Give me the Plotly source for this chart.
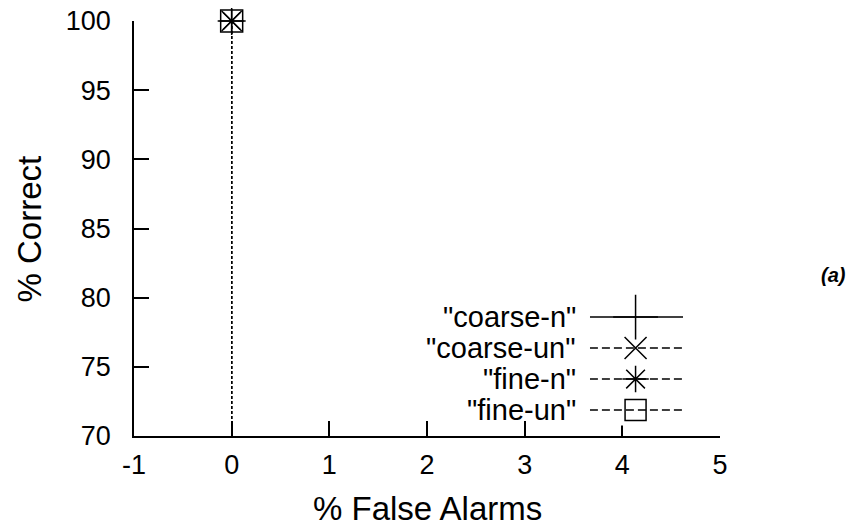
import plotly.graph_objects as go

# ---- data ----
series_names = ['"coarse-n"', '"coarse-un"', '"fine-n"', '"fine-un"']
false_alarms = {
    '"coarse-n"': [0, 0],
    '"coarse-un"': [0, 0],
    '"fine-n"': [0, 0],
    '"fine-un"': [0, 0],
}
pct_correct = {
    '"coarse-n"': [100, 0],
    '"coarse-un"': [100, 0],
    '"fine-n"': [100, 0],
    '"fine-un"': [100, 0],
}
x_ticks = [-1, 0, 1, 2, 3, 4, 5]
x_tick_labels = ["-1", "0", "1", "2", "3", "4", "5"]
y_ticks = [70, 75, 80, 85, 90, 95, 100]
y_tick_labels = ["70", "75", "80", "85", "90", "95", "100"]

# ---- styles ----
symbols = ["cross-thin-open", "x-thin-open", "asterisk-open", "square-open"]
plot_sizes = [20, 20, 20, 22]
legend_sizes = [32, 22, 22, 21]
legend_dash = ["solid", "8px,4px", "8px,4px", "8px,4px"]
FONT = "Liberation Sans, Arial, sans-serif"

fig = go.Figure()

for i, name in enumerate(series_names):
    fig.add_trace(go.Scatter(
        x=false_alarms[name], y=pct_correct[name], mode="lines+markers",
        line=dict(color="black", width=1.2, dash="3px,2px"),
        marker=dict(symbol=symbols[i], size=plot_sizes[i], color="black",
                    line=dict(color="black", width=1.5)),
        cliponaxis=False,
        showlegend=False, xaxis="x", yaxis="y",
    ))

# manual gnuplot-style key (text left, sample right)
n = len(series_names)
for i, name in enumerate(series_names):
    row = n - i
    fig.add_trace(go.Scatter(
        x=[0, 1], y=[row, row], mode="lines",
        line=dict(color="black", width=1.5, dash=legend_dash[i]),
        showlegend=False, xaxis="x2", yaxis="y2", hoverinfo="skip",
    ))
    fig.add_trace(go.Scatter(
        x=[0.49], y=[row], mode="markers",
        marker=dict(symbol=symbols[i], size=legend_sizes[i], color="black",
                    line=dict(color="black", width=1.5)),
        cliponaxis=False,
        showlegend=False, xaxis="x2", yaxis="y2", hoverinfo="skip",
    ))
    fig.add_annotation(
        x=0, y=row, xref="x2", yref="y2", text=name, showarrow=False,
        xanchor="right", yanchor="middle", xshift=-12,
        font=dict(family=FONT, size=29, color="black"),
    )

fig.add_annotation(x=0.5, y=-0.1735, xref="paper", yref="paper",
                   text="% False Alarms", showarrow=False,
                   xanchor="center", yanchor="middle",
                   font=dict(family=FONT, size=33, color="black"))
fig.add_annotation(x=-0.1775, y=0.5, xref="paper", yref="paper",
                   text="% Correct", showarrow=False, textangle=-90,
                   xanchor="center", yanchor="middle",
                   font=dict(family=FONT, size=33, color="black"))
fig.add_annotation(x=1.193, y=0.388, xref="paper", yref="paper",
                   text="<b><i>(a)</i></b>", showarrow=False,
                   xanchor="center", yanchor="middle",
                   font=dict(family=FONT, size=20, color="black"))

axis_common = dict(
    showline=True, linecolor="black", linewidth=1.5, mirror=False,
    ticks="inside", ticklen=15, tickwidth=1.5, tickcolor="black",
    showgrid=False, zeroline=False, automargin=False,
    ticklabeloverflow="allow",
    tickfont=dict(family=FONT, size=27, color="black"),
)

# page body has an 8px margin, so the figure is drawn 8px in from the corner
fig.update_layout(
    width=847, height=521,
    margin=dict(l=126, r=135, t=13, b=93, autoexpand=False),
    paper_bgcolor="white", plot_bgcolor="white",
    showlegend=False,
    xaxis=dict(range=[-1, 5], tickvals=x_ticks, ticktext=x_tick_labels,
               ticklabelstandoff=4, **axis_common),
    yaxis=dict(range=[70, 100], tickvals=y_ticks, ticktext=y_tick_labels,
               ticklabelstandoff=16, **axis_common),
    xaxis2=dict(domain=[0.778, 0.937], range=[0, 1], anchor="y2",
                visible=False, fixedrange=True, automargin=False),
    yaxis2=dict(domain=[0.0253, 0.324], range=[0.5, 4.5], anchor="x2",
                visible=False, fixedrange=True, automargin=False),
)

fig.write_html("out.html")
